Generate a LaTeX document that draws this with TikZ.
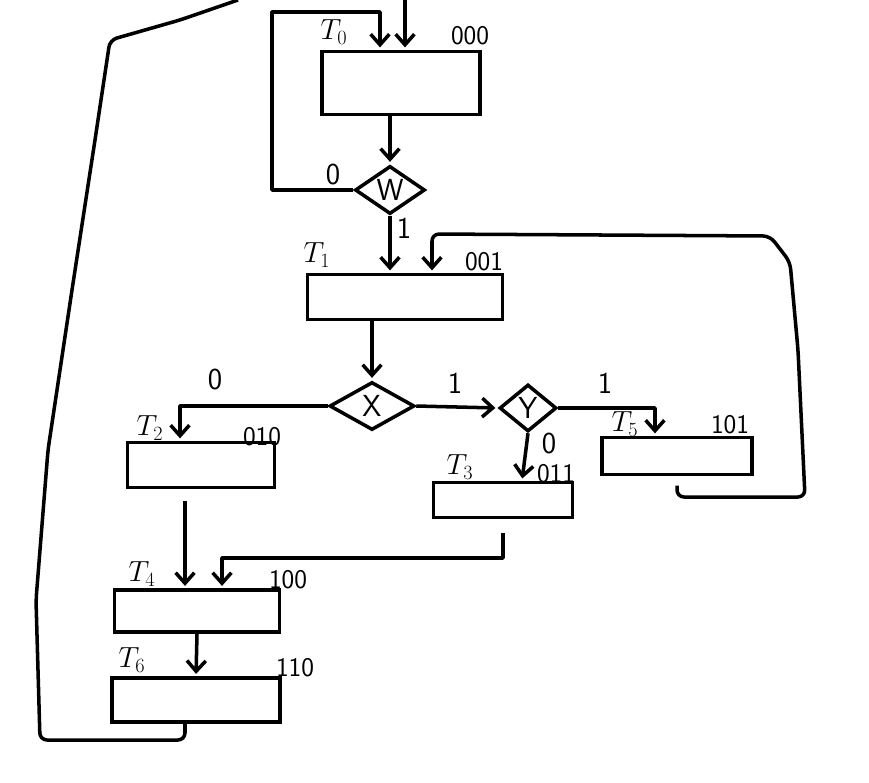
\documentclass[tikz,border=0pt]{standalone}
\usepackage{tikz}
\usetikzlibrary{arrows.meta,shapes.geometric,calc}

\begin{document}
\begin{tikzpicture}[
    x=0.03cm, y=-0.03cm,
    font=\sffamily\fontsize{26}{30}\selectfont,
    line width=3pt,
    >={Straight Barb[length=9pt,width=16pt]},
    stbox/.style n args={2}{draw, minimum width=#1*0.03cm,
                            minimum height=#2*0.03cm, inner sep=0pt},
    cond/.style n args={2}{draw, diamond, minimum width=#1*0.03cm,
                           minimum height=#2*0.03cm, inner sep=0pt},
    lab/.style={inner sep=1pt},
    code/.style={inner sep=1pt, font=\sffamily\fontsize{23}{26}\selectfont},
    sig/.style={->, line join=round, shorten >=2pt},
    wire/.style={line join=round, rounded corners=6pt},
  ]
  \useasboundingbox (0,0) rectangle (869,782);

  %% ---- state boxes and decisions ------------------------------------
  \node[stbox={158}{63}] (T0) at (401,83)  {};
  \node[cond={70}{47}]   (W)  at (390,190) {W};
  \node[stbox={195}{45}] (T1) at (405,297) {};
  \node[cond={85}{48}]   (X)  at (372,406) {X};
  \node[cond={57}{47}]   (Y)  at (528,408) {Y};
  \node[stbox={147}{45}] (T2) at (201,465) {};
  \node[stbox={139}{35}] (T3) at (503,500) {};
  \node[stbox={150}{37}] (T5) at (677,456) {};
  \node[stbox={165}{42}] (T4) at (197,611) {};
  \node[stbox={168}{44}] (T6) at (196,700) {};

  %% ---- state names and codes ----------------------------------------
  \node[lab] (n0) at (334,32)  {$T_0$};  \node[code] (c0) at (470,36)  {000};
  \node[lab] (n1) at (317,255) {$T_1$};  \node[code] (c1) at (484,262) {001};
  \node[lab] (n2) at (150,428) {$T_2$};  \node[code] (c2) at (262,437) {010};
  \node[lab] (n3) at (460,467) {$T_3$};  \node[code] (c3) at (556,474) {011};
  \node[lab] (n5) at (625,424) {$T_5$};  \node[code] (c5) at (730,425) {101};
  \node[lab] (n4) at (142,574) {$T_4$};  \node[code] (c4) at (288,580) {100};
  \node[lab] (n6) at (132,660) {$T_6$};  \node[code] (c6) at (295,668) {110};

  %% ---- branch values ------------------------------------------------
  \node[lab] (w0) at (333,175) {0};
  \node[lab] (w1) at (404,228) {1};
  \node[lab] (x1) at (455,383) {1};
  \node[lab] (x0) at (215,380) {0};
  \node[lab] (y1) at (605,383) {1};
  \node[lab] (y0) at (549,444) {0};

  %% ---- connectors ---------------------------------------------------
  \coordinate (entry) at (405,0);
  \coordinate (exit)  at (238,0);
  \draw[sig] (entry) -- (entry |- T0.north);
  \draw[sig] (T0.south -| W.north) -- (W.north);
  \draw[sig] (W.west) -| (272,12) -| ($(T0.north)+(-21,0)$);
  \draw[sig] (W.south) -- (W.south |- T1.north);
  \draw[sig] (T1.south -| X.north) -- (X.north);
  \draw[sig] (X.east) -- (Y.west);
  \draw[sig] (X.west) -| ($(T2.north)+(-21,0)$);
  \draw[sig] (Y.east) -| ($(T5.north)+(-22,0)$);
  \draw[sig] (Y.south) -- ($(T3.north)+(19,0)$);
  \draw[sig, shorten <=10pt] ($(T2.south)+(-16,0)$) -- ($(T4.north)+(-12,0)$);
  \draw[sig, shorten <=12pt] (T3.south) |- (222,558) -- ($(T4.north)+(25,0)$);
  \draw[sig] (T4.south) -- (T6.north);
  \draw[sig, wire, shorten <=8pt] (T5.south) |- (805,497) -- (798,350)
        -- (790,262) -- (770,236) -- (432,234) -- ($(T1.north)+(27,0)$);
  \draw[wire] ($(T6.south)+(-11,0)$) |- (40,740) -- (36,600) -- (48,450)
        -- (72,290) -- (95,140) -- (110,40) -- (180,20) -- (exit);

\end{tikzpicture}
\end{document}
